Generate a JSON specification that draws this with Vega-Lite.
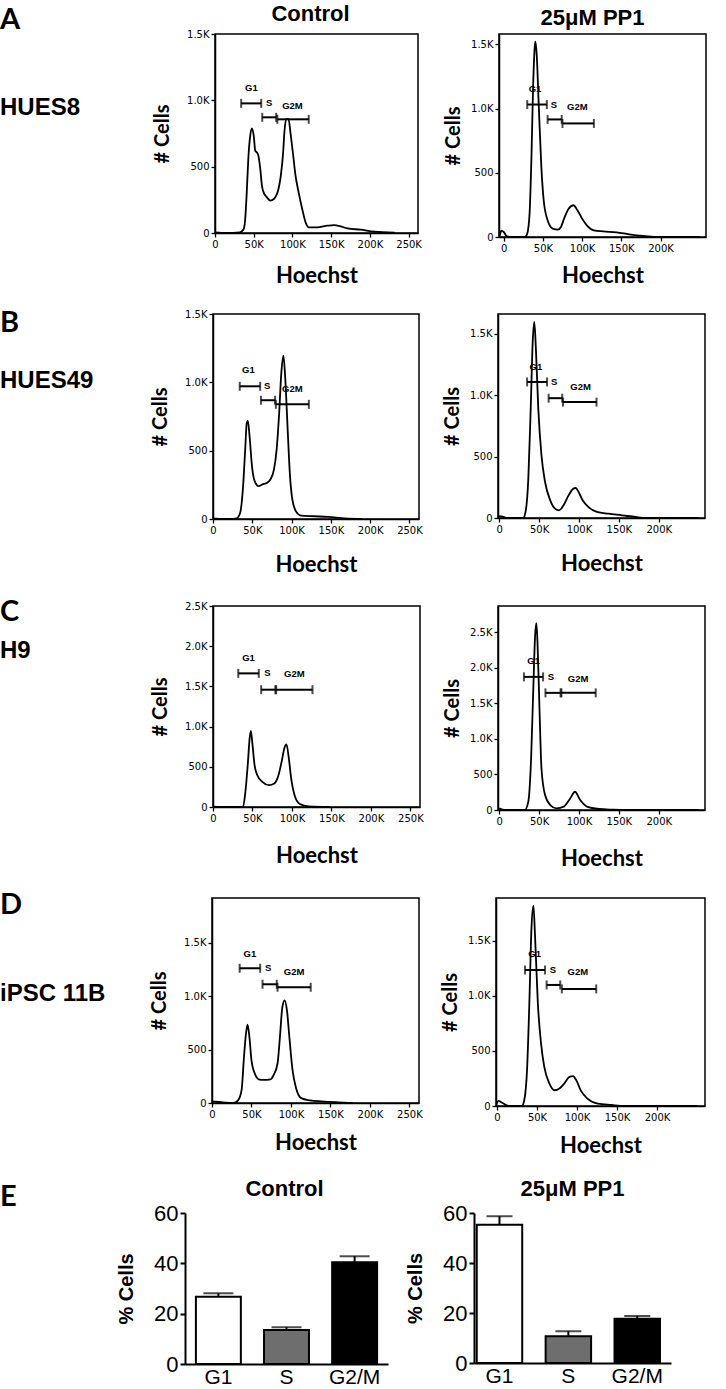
{
  "$schema": "https://vega.github.io/schema/vega-lite/v6.json",
  "padding": {"left": 0, "top": 2, "right": 0, "bottom": 0},
  "autosize": {"type": "pad"},
  "background": "white",
  "datasets": {
    "rows": [
      {"row": "A", "letter": "A", "name": "HUES8"},
      {"row": "B", "letter": "B", "name": "HUES49"},
      {"row": "C", "letter": "C", "name": "H9"},
      {"row": "D", "letter": "D", "name": "iPSC 11B"},
      {"row": "E", "letter": "E", "name": ""}
    ],
    "phases": [
      {"panel": "Control", "phase": "G1", "pct": 26.7, "hi": 28.1},
      {"panel": "Control", "phase": "S", "pct": 13.5, "hi": 14.6},
      {"panel": "Control", "phase": "G2/M", "pct": 40.4, "hi": 42.8},
      {"panel": "PP1", "phase": "G1", "pct": 55.3, "hi": 58.7},
      {"panel": "PP1", "phase": "S", "pct": 10.7, "hi": 12.7},
      {"panel": "PP1", "phase": "G2/M", "pct": 17.7, "hi": 18.8}
    ],
    "gates": [
      {"p": "Actl", "gate": "G1", "x1": 33800, "x2": 59700, "y": 977, "lx": 47000, "ly": 1090},
      {"p": "Actl", "gate": "S", "x1": 61000, "x2": 79000, "y": 872, "lx": 70000, "ly": 977},
      {"p": "Actl", "gate": "G2M", "x1": 80500, "x2": 121000, "y": 857, "lx": 100000, "ly": 955},
      {"p": "Bctl", "gate": "G1", "x1": 34000, "x2": 60000, "y": 971, "lx": 45000, "ly": 1088},
      {"p": "Bctl", "gate": "S", "x1": 61000, "x2": 79000, "y": 869, "lx": 69000, "ly": 971},
      {"p": "Bctl", "gate": "G2M", "x1": 80000, "x2": 122000, "y": 839, "lx": 101000, "ly": 949},
      {"p": "Cctl", "gate": "G1", "x1": 32000, "x2": 58000, "y": 1662, "lx": 45000, "ly": 1853},
      {"p": "Cctl", "gate": "S", "x1": 61000, "x2": 79000, "y": 1459, "lx": 69000, "ly": 1662},
      {"p": "Cctl", "gate": "G2M", "x1": 80000, "x2": 126000, "y": 1459, "lx": 103000, "ly": 1650},
      {"p": "Dctl", "gate": "G1", "x1": 35000, "x2": 61000, "y": 1262, "lx": 48000, "ly": 1400},
      {"p": "Dctl", "gate": "S", "x1": 64000, "x2": 82000, "y": 1112, "lx": 71000, "ly": 1262},
      {"p": "Dctl", "gate": "G2M", "x1": 83000, "x2": 125000, "y": 1084, "lx": 104000, "ly": 1224},
      {"p": "Apps", "gate": "G1", "x1": 30000, "x2": 55000, "y": 1031, "lx": 40000, "ly": 1155},
      {"p": "Apps", "gate": "S", "x1": 56000, "x2": 74000, "y": 915, "lx": 64000, "ly": 1031},
      {"p": "Apps", "gate": "G2M", "x1": 75000, "x2": 115000, "y": 884, "lx": 94000, "ly": 1008},
      {"p": "Bpps", "gate": "G1", "x1": 35000, "x2": 60000, "y": 1107, "lx": 46000, "ly": 1230},
      {"p": "Bpps", "gate": "S", "x1": 62000, "x2": 79000, "y": 975, "lx": 69000, "ly": 1107},
      {"p": "Bpps", "gate": "G2M", "x1": 80000, "x2": 122000, "y": 943, "lx": 102000, "ly": 1066},
      {"p": "Cpps", "gate": "G1", "x1": 31000, "x2": 55000, "y": 1873, "lx": 43000, "ly": 2098},
      {"p": "Cpps", "gate": "S", "x1": 58000, "x2": 77000, "y": 1648, "lx": 65000, "ly": 1873},
      {"p": "Cpps", "gate": "G2M", "x1": 78000, "x2": 121000, "y": 1648, "lx": 99000, "ly": 1845},
      {"p": "Dpps", "gate": "G1", "x1": 35000, "x2": 60000, "y": 1236, "lx": 47000, "ly": 1382},
      {"p": "Dpps", "gate": "S", "x1": 62000, "x2": 79000, "y": 1100, "lx": 70000, "ly": 1236},
      {"p": "Dpps", "gate": "G2M", "x1": 81000, "x2": 124000, "y": 1064, "lx": 101000, "ly": 1218}
    ],
    "curves": [
      {"p":"Actl","x":0,"n":5},{"p":"Actl","x":15000,"n":0},{"p":"Actl","x":32000,"n":5},{"p":"Actl","x":37000,"n":30},{"p":"Actl","x":39000,"n":105},{"p":"Actl","x":41000,"n":306},{"p":"Actl","x":43000,"n":558},{"p":"Actl","x":45500,"n":734},{"p":"Actl","x":47600,"n":789},{"p":"Actl","x":50000,"n":734},{"p":"Actl","x":52000,"n":620},{"p":"Actl","x":54000,"n":608},{"p":"Actl","x":56000,"n":583},{"p":"Actl","x":58500,"n":482},{"p":"Actl","x":60600,"n":357},{"p":"Actl","x":62800,"n":306},{"p":"Actl","x":67000,"n":269},{"p":"Actl","x":71500,"n":244},{"p":"Actl","x":76000,"n":256},{"p":"Actl","x":79000,"n":281},{"p":"Actl","x":82000,"n":332},{"p":"Actl","x":85000,"n":432},{"p":"Actl","x":88000,"n":608},{"p":"Actl","x":89600,"n":759},{"p":"Actl","x":92000,"n":859},{"p":"Actl","x":95000,"n":859},{"p":"Actl","x":97400,"n":759},{"p":"Actl","x":101000,"n":583},{"p":"Actl","x":104000,"n":432},{"p":"Actl","x":108000,"n":306},{"p":"Actl","x":112600,"n":181},{"p":"Actl","x":117000,"n":80},{"p":"Actl","x":121000,"n":43},{"p":"Actl","x":132000,"n":43},{"p":"Actl","x":145000,"n":55},{"p":"Actl","x":154000,"n":60},{"p":"Actl","x":162000,"n":50},{"p":"Actl","x":171000,"n":35},{"p":"Actl","x":188000,"n":25},{"p":"Actl","x":206000,"n":10},{"p":"Actl","x":232000,"n":3},
      {"p":"Apps","x":-5000,"n":10},{"p":"Apps","x":-3000,"n":50},{"p":"Apps","x":0,"n":39},{"p":"Apps","x":4000,"n":5},{"p":"Apps","x":10000,"n":0},{"p":"Apps","x":27000,"n":0},{"p":"Apps","x":30000,"n":26},{"p":"Apps","x":33000,"n":182},{"p":"Apps","x":35500,"n":650},{"p":"Apps","x":37500,"n":1170},{"p":"Apps","x":39600,"n":1482},{"p":"Apps","x":40400,"n":1521},{"p":"Apps","x":42000,"n":1430},{"p":"Apps","x":44600,"n":1040},{"p":"Apps","x":48000,"n":546},{"p":"Apps","x":51000,"n":286},{"p":"Apps","x":56000,"n":130},{"p":"Apps","x":62500,"n":65},{"p":"Apps","x":69000,"n":57},{"p":"Apps","x":73000,"n":78},{"p":"Apps","x":77000,"n":143},{"p":"Apps","x":83000,"n":221},{"p":"Apps","x":89000,"n":247},{"p":"Apps","x":94000,"n":208},{"p":"Apps","x":100000,"n":143},{"p":"Apps","x":106000,"n":91},{"p":"Apps","x":115000,"n":52},{"p":"Apps","x":127000,"n":44},{"p":"Apps","x":144000,"n":36},{"p":"Apps","x":160000,"n":21},{"p":"Apps","x":177000,"n":8},{"p":"Apps","x":194000,"n":0},{"p":"Apps","x":250000,"n":0},
      {"p":"Bctl","x":0,"n":5},{"p":"Bctl","x":13000,"n":0},{"p":"Bctl","x":21500,"n":0},{"p":"Bctl","x":30000,"n":5},{"p":"Bctl","x":34500,"n":44},{"p":"Bctl","x":38000,"n":216},{"p":"Bctl","x":41000,"n":510},{"p":"Bctl","x":43000,"n":706},{"p":"Bctl","x":44400,"n":718},{"p":"Bctl","x":46500,"n":608},{"p":"Bctl","x":49600,"n":387},{"p":"Bctl","x":53000,"n":277},{"p":"Bctl","x":58000,"n":240},{"p":"Bctl","x":62500,"n":252},{"p":"Bctl","x":69000,"n":265},{"p":"Bctl","x":73000,"n":289},{"p":"Bctl","x":77600,"n":363},{"p":"Bctl","x":81000,"n":510},{"p":"Bctl","x":84000,"n":755},{"p":"Bctl","x":87000,"n":1073},{"p":"Bctl","x":89600,"n":1196},{"p":"Bctl","x":92000,"n":1024},{"p":"Bctl","x":95000,"n":657},{"p":"Bctl","x":98000,"n":314},{"p":"Bctl","x":101000,"n":142},{"p":"Bctl","x":105600,"n":56},{"p":"Bctl","x":112000,"n":25},{"p":"Bctl","x":129000,"n":20},{"p":"Bctl","x":146500,"n":15},{"p":"Bctl","x":168000,"n":5},{"p":"Bctl","x":190000,"n":0},
      {"p":"Bpps","x":-1300,"n":16},{"p":"Bpps","x":3000,"n":14},{"p":"Bpps","x":9000,"n":0},{"p":"Bpps","x":30000,"n":0},{"p":"Bpps","x":33000,"n":49},{"p":"Bpps","x":36500,"n":320},{"p":"Bpps","x":39500,"n":890},{"p":"Bpps","x":42000,"n":1432},{"p":"Bpps","x":44000,"n":1595},{"p":"Bpps","x":46000,"n":1378},{"p":"Bpps","x":49000,"n":890},{"p":"Bpps","x":53000,"n":510},{"p":"Bpps","x":57500,"n":293},{"p":"Bpps","x":64000,"n":144},{"p":"Bpps","x":70000,"n":76},{"p":"Bpps","x":75000,"n":62},{"p":"Bpps","x":80600,"n":103},{"p":"Bpps","x":87000,"n":184},{"p":"Bpps","x":93000,"n":239},{"p":"Bpps","x":96000,"n":244},{"p":"Bpps","x":99500,"n":212},{"p":"Bpps","x":104600,"n":144},{"p":"Bpps","x":112000,"n":89},{"p":"Bpps","x":122600,"n":49},{"p":"Bpps","x":137000,"n":35},{"p":"Bpps","x":154000,"n":22},{"p":"Bpps","x":171000,"n":8},{"p":"Bpps","x":183500,"n":0},{"p":"Bpps","x":250000,"n":0},
      {"p":"Cctl","x":0,"n":5},{"p":"Cctl","x":20000,"n":0},{"p":"Cctl","x":38000,"n":0},{"p":"Cctl","x":41000,"n":186},{"p":"Cctl","x":44000,"n":524},{"p":"Cctl","x":46500,"n":863},{"p":"Cctl","x":48000,"n":948},{"p":"Cctl","x":50000,"n":778},{"p":"Cctl","x":52600,"n":524},{"p":"Cctl","x":56000,"n":398},{"p":"Cctl","x":62500,"n":313},{"p":"Cctl","x":71000,"n":271},{"p":"Cctl","x":77600,"n":292},{"p":"Cctl","x":83000,"n":398},{"p":"Cctl","x":87000,"n":567},{"p":"Cctl","x":90500,"n":736},{"p":"Cctl","x":93000,"n":778},{"p":"Cctl","x":96000,"n":609},{"p":"Cctl","x":99000,"n":355},{"p":"Cctl","x":103400,"n":144},{"p":"Cctl","x":110000,"n":38},{"p":"Cctl","x":121000,"n":8},{"p":"Cctl","x":147000,"n":0},
      {"p":"Cpps","x":0,"n":23},{"p":"Cpps","x":7000,"n":0},{"p":"Cpps","x":32000,"n":0},{"p":"Cpps","x":36500,"n":117},{"p":"Cpps","x":40000,"n":724},{"p":"Cpps","x":43000,"n":1798},{"p":"Cpps","x":45000,"n":2452},{"p":"Cpps","x":46600,"n":2630},{"p":"Cpps","x":48000,"n":2360},{"p":"Cpps","x":50500,"n":1425},{"p":"Cpps","x":53000,"n":584},{"p":"Cpps","x":57500,"n":210},{"p":"Cpps","x":64000,"n":70},{"p":"Cpps","x":72000,"n":23},{"p":"Cpps","x":81000,"n":47},{"p":"Cpps","x":89000,"n":163},{"p":"Cpps","x":95000,"n":257},{"p":"Cpps","x":101600,"n":140},{"p":"Cpps","x":110000,"n":47},{"p":"Cpps","x":125000,"n":14},{"p":"Cpps","x":142000,"n":5},{"p":"Cpps","x":163000,"n":0},{"p":"Cpps","x":250000,"n":0},
      {"p":"Dctl","x":0,"n":15},{"p":"Dctl","x":14000,"n":6},{"p":"Dctl","x":27000,"n":0},{"p":"Dctl","x":33000,"n":25},{"p":"Dctl","x":37500,"n":123},{"p":"Dctl","x":40500,"n":431},{"p":"Dctl","x":43000,"n":647},{"p":"Dctl","x":45000,"n":733},{"p":"Dctl","x":47400,"n":616},{"p":"Dctl","x":50000,"n":400},{"p":"Dctl","x":55000,"n":262},{"p":"Dctl","x":59000,"n":222},{"p":"Dctl","x":65500,"n":216},{"p":"Dctl","x":74000,"n":222},{"p":"Dctl","x":78000,"n":262},{"p":"Dctl","x":83000,"n":370},{"p":"Dctl","x":86000,"n":616},{"p":"Dctl","x":89000,"n":893},{"p":"Dctl","x":92000,"n":961},{"p":"Dctl","x":95000,"n":862},{"p":"Dctl","x":98000,"n":616},{"p":"Dctl","x":102000,"n":308},{"p":"Dctl","x":106500,"n":139},{"p":"Dctl","x":113000,"n":46},{"p":"Dctl","x":124000,"n":25},{"p":"Dctl","x":139000,"n":15},{"p":"Dctl","x":160000,"n":6},{"p":"Dctl","x":178000,"n":0},
      {"p":"Dpps","x":-1000,"n":6},{"p":"Dpps","x":1700,"n":46},{"p":"Dpps","x":7000,"n":27},{"p":"Dpps","x":15000,"n":0},{"p":"Dpps","x":31000,"n":0},{"p":"Dpps","x":34000,"n":52},{"p":"Dpps","x":37500,"n":326},{"p":"Dpps","x":40400,"n":936},{"p":"Dpps","x":43000,"n":1607},{"p":"Dpps","x":45500,"n":1821},{"p":"Dpps","x":47500,"n":1546},{"p":"Dpps","x":51000,"n":936},{"p":"Dpps","x":55000,"n":570},{"p":"Dpps","x":59000,"n":357},{"p":"Dpps","x":65500,"n":204},{"p":"Dpps","x":72000,"n":143},{"p":"Dpps","x":78000,"n":159},{"p":"Dpps","x":84000,"n":204},{"p":"Dpps","x":90500,"n":265},{"p":"Dpps","x":95000,"n":271},{"p":"Dpps","x":99000,"n":235},{"p":"Dpps","x":105000,"n":137},{"p":"Dpps","x":113000,"n":67},{"p":"Dpps","x":126000,"n":21},{"p":"Dpps","x":143000,"n":9},{"p":"Dpps","x":159000,"n":0},{"p":"Dpps","x":250000,"n":0}
    ]
  },
  "spacing": 21,
  "vconcat": [
    {
      "spacing": 19,
      "hconcat": [
        {
          "width": 132, "height": 199, "view": {"stroke": null},
          "data": {"name": "rows"}, "transform": [{"filter": "datum.row === 'A'"}],
          "layer": [
            {"mark": {"type": "text", "font": "Lato", "fontWeight": "bold", "fontSize": 29, "align": "left", "baseline": "top"},
             "encoding": {"x": {"datum": 0, "type": "quantitative", "scale": {"domain": [0, 1]}, "axis": null}, "y": {"datum": 1.14, "type": "quantitative", "scale": {"domain": [0, 1]}, "axis": null}, "text": {"field": "letter"}}},
            {"mark": {"type": "text", "font": "Liberation Sans", "fontWeight": "bold", "fontSize": 24, "align": "left", "baseline": "middle"},
             "encoding": {"x": {"datum": 0, "type": "quantitative", "scale": {"domain": [0, 1]}, "axis": null}, "y": {"datum": 0.628, "type": "quantitative", "scale": {"domain": [0, 1]}, "axis": null}, "text": {"field": "name"}}}
          ]
        },
        {
          "width": 203, "height": 199,
          "title": {"text": "Control", "offset": 3, "frame": "group", "dx": -6},
          "layer": [
            {"data": {"name": "curves"}, "transform": [{"filter": "datum.p === 'Actl'"}],
             "mark": {"type": "line", "color": "black", "strokeWidth": 1.8, "interpolate": "monotone", "clip": true},
             "encoding": {
               "x": {"field": "x", "type": "quantitative", "scale": {"domain": [0, 262144], "nice": false, "zero": false},
                     "axis": {"title": "Hoechst", "titlePadding": 16, "labelOverlap": false, "values": [0, 50000, 100000, 150000, 200000, 250000],
                              "labelExpr": "datum.value === 0 ? '0' : (datum.value / 1000) + 'K'"}},
               "y": {"field": "n", "type": "quantitative", "scale": {"domain": [0, 1500], "nice": false},
                     "axis": {"title": "# Cells", "titlePadding": 14, "labelOverlap": false, "values": [0, 500, 1000, 1500],
                              "labelExpr": "datum.value === 0 ? '0' : datum.value < 1000 ? '' + datum.value : format(datum.value / 1000, '.1f') + 'K'"}}
             }},
            {"data": {"name": "gates"}, "transform": [{"filter": "datum.p === 'Actl'"}],
             "mark": {"type": "rule", "color": "black", "strokeWidth": 2},
             "encoding": {"x": {"field": "x1", "type": "quantitative", "scale": {"domain": [0, 262144], "nice": false, "zero": false}}, "x2": {"field": "x2"}, "y": {"field": "y", "type": "quantitative", "scale": {"domain": [0, 1500], "nice": false}}}},
            {"data": {"name": "gates"}, "transform": [{"filter": "datum.p === 'Actl'"}, {"fold": ["x1", "x2"], "as": ["end", "xe"]}],
             "mark": {"type": "tick", "orient": "vertical", "color": "black", "size": 9, "thickness": 2},
             "encoding": {"x": {"field": "xe", "type": "quantitative", "scale": {"domain": [0, 262144], "nice": false, "zero": false}}, "y": {"field": "y", "type": "quantitative", "scale": {"domain": [0, 1500], "nice": false}}}},
            {"data": {"name": "gates"}, "transform": [{"filter": "datum.p === 'Actl'"}],
             "mark": {"type": "text", "font": "Liberation Sans", "fontWeight": "bold", "fontSize": 9.5},
             "encoding": {"x": {"field": "lx", "type": "quantitative", "scale": {"domain": [0, 262144], "nice": false, "zero": false}}, "y": {"field": "ly", "type": "quantitative", "scale": {"domain": [0, 1500], "nice": false}}, "text": {"field": "gate"}}}
          ]
        },
        {
          "width": 207, "height": 203,
          "title": {"text": "25μM PP1", "offset": 4, "frame": "group", "dx": -10},
          "layer": [
            {"data": {"name": "curves"}, "transform": [{"filter": "datum.p === 'Apps'"}],
             "mark": {"type": "line", "color": "black", "strokeWidth": 1.8, "interpolate": "monotone", "clip": true},
             "encoding": {
               "x": {"field": "x", "type": "quantitative", "scale": {"domain": [-6000, 258000], "nice": false, "zero": false},
                     "axis": {"title": "Hoechst", "titlePadding": 12, "labelOverlap": false, "values": [0, 50000, 100000, 150000, 200000],
                              "labelExpr": "datum.value === 0 ? '0' : (datum.value / 1000) + 'K'"}},
               "y": {"field": "n", "type": "quantitative", "scale": {"domain": [0, 1580], "nice": false},
                     "axis": {"title": "# Cells", "titlePadding": 7, "labelOverlap": false, "values": [0, 500, 1000, 1500],
                              "labelExpr": "datum.value === 0 ? '0' : datum.value < 1000 ? '' + datum.value : format(datum.value / 1000, '.1f') + 'K'"}}
             }},
            {"data": {"name": "gates"}, "transform": [{"filter": "datum.p === 'Apps'"}],
             "mark": {"type": "rule", "color": "black", "strokeWidth": 2},
             "encoding": {"x": {"field": "x1", "type": "quantitative", "scale": {"domain": [-6000, 258000], "nice": false, "zero": false}}, "x2": {"field": "x2"}, "y": {"field": "y", "type": "quantitative", "scale": {"domain": [0, 1580], "nice": false}}}},
            {"data": {"name": "gates"}, "transform": [{"filter": "datum.p === 'Apps'"}, {"fold": ["x1", "x2"], "as": ["end", "xe"]}],
             "mark": {"type": "tick", "orient": "vertical", "color": "black", "size": 9, "thickness": 2},
             "encoding": {"x": {"field": "xe", "type": "quantitative", "scale": {"domain": [-6000, 258000], "nice": false, "zero": false}}, "y": {"field": "y", "type": "quantitative", "scale": {"domain": [0, 1580], "nice": false}}}},
            {"data": {"name": "gates"}, "transform": [{"filter": "datum.p === 'Apps'"}],
             "mark": {"type": "text", "font": "Liberation Sans", "fontWeight": "bold", "fontSize": 9.5},
             "encoding": {"x": {"field": "lx", "type": "quantitative", "scale": {"domain": [-6000, 258000], "nice": false, "zero": false}}, "y": {"field": "ly", "type": "quantitative", "scale": {"domain": [0, 1580], "nice": false}}, "text": {"field": "gate"}}}
          ]
        }
      ]
    },
    {
      "spacing": 17,
      "hconcat": [
        {
          "width": 132, "height": 205, "view": {"stroke": null},
          "data": {"name": "rows"}, "transform": [{"filter": "datum.row === 'B'"}],
          "layer": [
            {"mark": {"type": "text", "font": "Lato", "fontWeight": "bold", "fontSize": 29, "align": "left", "baseline": "top"},
             "encoding": {"x": {"datum": 0, "type": "quantitative", "scale": {"domain": [0, 1]}, "axis": null}, "y": {"datum": 1.024, "type": "quantitative", "scale": {"domain": [0, 1]}, "axis": null}, "text": {"field": "letter"}}},
            {"mark": {"type": "text", "font": "Liberation Sans", "fontWeight": "bold", "fontSize": 24, "align": "left", "baseline": "middle"},
             "encoding": {"x": {"datum": 0, "type": "quantitative", "scale": {"domain": [0, 1]}, "axis": null}, "y": {"datum": 0.673, "type": "quantitative", "scale": {"domain": [0, 1]}, "axis": null}, "text": {"field": "name"}}}
          ]
        },
        {
          "width": 206, "height": 205,
          "layer": [
            {"data": {"name": "curves"}, "transform": [{"filter": "datum.p === 'Bctl'"}],
             "mark": {"type": "line", "color": "black", "strokeWidth": 1.8, "interpolate": "monotone", "clip": true},
             "encoding": {
               "x": {"field": "x", "type": "quantitative", "scale": {"domain": [0, 262144], "nice": false, "zero": false},
                     "axis": {"title": "Hoechst", "titlePadding": 19, "labelOverlap": false, "values": [0, 50000, 100000, 150000, 200000, 250000],
                              "labelExpr": "datum.value === 0 ? '0' : (datum.value / 1000) + 'K'"}},
               "y": {"field": "n", "type": "quantitative", "scale": {"domain": [0, 1500], "nice": false},
                     "axis": {"title": "# Cells", "titlePadding": 14, "labelOverlap": false, "values": [0, 500, 1000, 1500],
                              "labelExpr": "datum.value === 0 ? '0' : datum.value < 1000 ? '' + datum.value : format(datum.value / 1000, '.1f') + 'K'"}}
             }},
            {"data": {"name": "gates"}, "transform": [{"filter": "datum.p === 'Bctl'"}],
             "mark": {"type": "rule", "color": "black", "strokeWidth": 2},
             "encoding": {"x": {"field": "x1", "type": "quantitative", "scale": {"domain": [0, 262144], "nice": false, "zero": false}}, "x2": {"field": "x2"}, "y": {"field": "y", "type": "quantitative", "scale": {"domain": [0, 1500], "nice": false}}}},
            {"data": {"name": "gates"}, "transform": [{"filter": "datum.p === 'Bctl'"}, {"fold": ["x1", "x2"], "as": ["end", "xe"]}],
             "mark": {"type": "tick", "orient": "vertical", "color": "black", "size": 9, "thickness": 2},
             "encoding": {"x": {"field": "xe", "type": "quantitative", "scale": {"domain": [0, 262144], "nice": false, "zero": false}}, "y": {"field": "y", "type": "quantitative", "scale": {"domain": [0, 1500], "nice": false}}}},
            {"data": {"name": "gates"}, "transform": [{"filter": "datum.p === 'Bctl'"}],
             "mark": {"type": "text", "font": "Liberation Sans", "fontWeight": "bold", "fontSize": 9.5},
             "encoding": {"x": {"field": "lx", "type": "quantitative", "scale": {"domain": [0, 262144], "nice": false, "zero": false}}, "y": {"field": "ly", "type": "quantitative", "scale": {"domain": [0, 1500], "nice": false}}, "text": {"field": "gate"}}}
          ]
        },
        {
          "width": 207, "height": 204,
          "layer": [
            {"data": {"name": "curves"}, "transform": [{"filter": "datum.p === 'Bpps'"}],
             "mark": {"type": "line", "color": "black", "strokeWidth": 1.8, "interpolate": "monotone", "clip": true},
             "encoding": {
               "x": {"field": "x", "type": "quantitative", "scale": {"domain": [-1500, 258000], "nice": false, "zero": false},
                     "axis": {"title": "Hoechst", "titlePadding": 19, "labelOverlap": false, "values": [0, 50000, 100000, 150000, 200000],
                              "labelExpr": "datum.value === 0 ? '0' : (datum.value / 1000) + 'K'"}},
               "y": {"field": "n", "type": "quantitative", "scale": {"domain": [0, 1660], "nice": false},
                     "axis": {"title": "# Cells", "titlePadding": 7, "labelOverlap": false, "values": [0, 500, 1000, 1500],
                              "labelExpr": "datum.value === 0 ? '0' : datum.value < 1000 ? '' + datum.value : format(datum.value / 1000, '.1f') + 'K'"}}
             }},
            {"data": {"name": "gates"}, "transform": [{"filter": "datum.p === 'Bpps'"}],
             "mark": {"type": "rule", "color": "black", "strokeWidth": 2},
             "encoding": {"x": {"field": "x1", "type": "quantitative", "scale": {"domain": [-1500, 258000], "nice": false, "zero": false}}, "x2": {"field": "x2"}, "y": {"field": "y", "type": "quantitative", "scale": {"domain": [0, 1660], "nice": false}}}},
            {"data": {"name": "gates"}, "transform": [{"filter": "datum.p === 'Bpps'"}, {"fold": ["x1", "x2"], "as": ["end", "xe"]}],
             "mark": {"type": "tick", "orient": "vertical", "color": "black", "size": 9, "thickness": 2},
             "encoding": {"x": {"field": "xe", "type": "quantitative", "scale": {"domain": [-1500, 258000], "nice": false, "zero": false}}, "y": {"field": "y", "type": "quantitative", "scale": {"domain": [0, 1660], "nice": false}}}},
            {"data": {"name": "gates"}, "transform": [{"filter": "datum.p === 'Bpps'"}],
             "mark": {"type": "text", "font": "Liberation Sans", "fontWeight": "bold", "fontSize": 9.5},
             "encoding": {"x": {"field": "lx", "type": "quantitative", "scale": {"domain": [-1500, 258000], "nice": false, "zero": false}}, "y": {"field": "ly", "type": "quantitative", "scale": {"domain": [0, 1660], "nice": false}}, "text": {"field": "gate"}}}
          ]
        }
      ]
    },
    {
      "spacing": 17,
      "hconcat": [
        {
          "width": 132, "height": 201, "view": {"stroke": null},
          "data": {"name": "rows"}, "transform": [{"filter": "datum.row === 'C'"}],
          "layer": [
            {"mark": {"type": "text", "font": "Lato", "fontWeight": "bold", "fontSize": 29, "align": "left", "baseline": "top"},
             "encoding": {"x": {"datum": 0, "type": "quantitative", "scale": {"domain": [0, 1]}, "axis": null}, "y": {"datum": 1.04, "type": "quantitative", "scale": {"domain": [0, 1]}, "axis": null}, "text": {"field": "letter"}}},
            {"mark": {"type": "text", "font": "Liberation Sans", "fontWeight": "bold", "fontSize": 24, "align": "left", "baseline": "middle"},
             "encoding": {"x": {"datum": 0, "type": "quantitative", "scale": {"domain": [0, 1]}, "axis": null}, "y": {"datum": 0.776, "type": "quantitative", "scale": {"domain": [0, 1]}, "axis": null}, "text": {"field": "name"}}}
          ]
        },
        {
          "width": 207, "height": 201,
          "layer": [
            {"data": {"name": "curves"}, "transform": [{"filter": "datum.p === 'Cctl'"}],
             "mark": {"type": "line", "color": "black", "strokeWidth": 1.8, "interpolate": "monotone", "clip": true},
             "encoding": {
               "x": {"field": "x", "type": "quantitative", "scale": {"domain": [0, 262144], "nice": false, "zero": false},
                     "axis": {"title": "Hoechst", "titlePadding": 22, "labelOverlap": false, "values": [0, 50000, 100000, 150000, 200000, 250000],
                              "labelExpr": "datum.value === 0 ? '0' : (datum.value / 1000) + 'K'"}},
               "y": {"field": "n", "type": "quantitative", "scale": {"domain": [0, 2500], "nice": false},
                     "axis": {"title": "# Cells", "titlePadding": 14, "labelOverlap": false, "values": [0, 500, 1000, 1500, 2000, 2500],
                              "labelExpr": "datum.value === 0 ? '0' : datum.value < 1000 ? '' + datum.value : format(datum.value / 1000, '.1f') + 'K'"}}
             }},
            {"data": {"name": "gates"}, "transform": [{"filter": "datum.p === 'Cctl'"}],
             "mark": {"type": "rule", "color": "black", "strokeWidth": 2},
             "encoding": {"x": {"field": "x1", "type": "quantitative", "scale": {"domain": [0, 262144], "nice": false, "zero": false}}, "x2": {"field": "x2"}, "y": {"field": "y", "type": "quantitative", "scale": {"domain": [0, 2500], "nice": false}}}},
            {"data": {"name": "gates"}, "transform": [{"filter": "datum.p === 'Cctl'"}, {"fold": ["x1", "x2"], "as": ["end", "xe"]}],
             "mark": {"type": "tick", "orient": "vertical", "color": "black", "size": 9, "thickness": 2},
             "encoding": {"x": {"field": "xe", "type": "quantitative", "scale": {"domain": [0, 262144], "nice": false, "zero": false}}, "y": {"field": "y", "type": "quantitative", "scale": {"domain": [0, 2500], "nice": false}}}},
            {"data": {"name": "gates"}, "transform": [{"filter": "datum.p === 'Cctl'"}],
             "mark": {"type": "text", "font": "Liberation Sans", "fontWeight": "bold", "fontSize": 9.5},
             "encoding": {"x": {"field": "lx", "type": "quantitative", "scale": {"domain": [0, 262144], "nice": false, "zero": false}}, "y": {"field": "ly", "type": "quantitative", "scale": {"domain": [0, 2500], "nice": false}}, "text": {"field": "gate"}}}
          ]
        },
        {
          "width": 207, "height": 204,
          "layer": [
            {"data": {"name": "curves"}, "transform": [{"filter": "datum.p === 'Cpps'"}],
             "mark": {"type": "line", "color": "black", "strokeWidth": 1.8, "interpolate": "monotone", "clip": true},
             "encoding": {
               "x": {"field": "x", "type": "quantitative", "scale": {"domain": [-1500, 258000], "nice": false, "zero": false},
                     "axis": {"title": "Hoechst", "titlePadding": 22, "labelOverlap": false, "values": [0, 50000, 100000, 150000, 200000],
                              "labelExpr": "datum.value === 0 ? '0' : (datum.value / 1000) + 'K'"}},
               "y": {"field": "n", "type": "quantitative", "scale": {"domain": [0, 2870], "nice": false},
                     "axis": {"title": "# Cells", "titlePadding": 7, "labelOverlap": false, "values": [0, 500, 1000, 1500, 2000, 2500],
                              "labelExpr": "datum.value === 0 ? '0' : datum.value < 1000 ? '' + datum.value : format(datum.value / 1000, '.1f') + 'K'"}}
             }},
            {"data": {"name": "gates"}, "transform": [{"filter": "datum.p === 'Cpps'"}],
             "mark": {"type": "rule", "color": "black", "strokeWidth": 2},
             "encoding": {"x": {"field": "x1", "type": "quantitative", "scale": {"domain": [-1500, 258000], "nice": false, "zero": false}}, "x2": {"field": "x2"}, "y": {"field": "y", "type": "quantitative", "scale": {"domain": [0, 2870], "nice": false}}}},
            {"data": {"name": "gates"}, "transform": [{"filter": "datum.p === 'Cpps'"}, {"fold": ["x1", "x2"], "as": ["end", "xe"]}],
             "mark": {"type": "tick", "orient": "vertical", "color": "black", "size": 9, "thickness": 2},
             "encoding": {"x": {"field": "xe", "type": "quantitative", "scale": {"domain": [-1500, 258000], "nice": false, "zero": false}}, "y": {"field": "y", "type": "quantitative", "scale": {"domain": [0, 2870], "nice": false}}}},
            {"data": {"name": "gates"}, "transform": [{"filter": "datum.p === 'Cpps'"}],
             "mark": {"type": "text", "font": "Liberation Sans", "fontWeight": "bold", "fontSize": 9.5},
             "encoding": {"x": {"field": "lx", "type": "quantitative", "scale": {"domain": [-1500, 258000], "nice": false, "zero": false}}, "y": {"field": "ly", "type": "quantitative", "scale": {"domain": [0, 2870], "nice": false}}, "text": {"field": "gate"}}}
          ]
        }
      ]
    },
    {
      "spacing": 16,
      "hconcat": [
        {
          "width": 132, "height": 205, "view": {"stroke": null},
          "data": {"name": "rows"}, "transform": [{"filter": "datum.row === 'D'"}],
          "layer": [
            {"mark": {"type": "text", "font": "Lato", "fontWeight": "bold", "fontSize": 29, "align": "left", "baseline": "top"},
             "encoding": {"x": {"datum": 0, "type": "quantitative", "scale": {"domain": [0, 1]}, "axis": null}, "y": {"datum": 1.034, "type": "quantitative", "scale": {"domain": [0, 1]}, "axis": null}, "text": {"field": "letter"}}},
            {"mark": {"type": "text", "font": "Liberation Sans", "fontWeight": "bold", "fontSize": 24, "align": "left", "baseline": "middle"},
             "encoding": {"x": {"datum": 0, "type": "quantitative", "scale": {"domain": [0, 1]}, "axis": null}, "y": {"datum": 0.532, "type": "quantitative", "scale": {"domain": [0, 1]}, "axis": null}, "text": {"field": "name"}}}
          ]
        },
        {
          "width": 207, "height": 205,
          "layer": [
            {"data": {"name": "curves"}, "transform": [{"filter": "datum.p === 'Dctl'"}],
             "mark": {"type": "line", "color": "black", "strokeWidth": 1.8, "interpolate": "monotone", "clip": true},
             "encoding": {
               "x": {"field": "x", "type": "quantitative", "scale": {"domain": [0, 262144], "nice": false, "zero": false},
                     "axis": {"title": "Hoechst", "titlePadding": 13, "labelOverlap": false, "values": [0, 50000, 100000, 150000, 200000, 250000],
                              "labelExpr": "datum.value === 0 ? '0' : (datum.value / 1000) + 'K'"}},
               "y": {"field": "n", "type": "quantitative", "scale": {"domain": [0, 1920], "nice": false},
                     "axis": {"title": "# Cells", "titlePadding": 14, "labelOverlap": false, "values": [0, 500, 1000, 1500],
                              "labelExpr": "datum.value === 0 ? '0' : datum.value < 1000 ? '' + datum.value : format(datum.value / 1000, '.1f') + 'K'"}}
             }},
            {"data": {"name": "gates"}, "transform": [{"filter": "datum.p === 'Dctl'"}],
             "mark": {"type": "rule", "color": "black", "strokeWidth": 2},
             "encoding": {"x": {"field": "x1", "type": "quantitative", "scale": {"domain": [0, 262144], "nice": false, "zero": false}}, "x2": {"field": "x2"}, "y": {"field": "y", "type": "quantitative", "scale": {"domain": [0, 1920], "nice": false}}}},
            {"data": {"name": "gates"}, "transform": [{"filter": "datum.p === 'Dctl'"}, {"fold": ["x1", "x2"], "as": ["end", "xe"]}],
             "mark": {"type": "tick", "orient": "vertical", "color": "black", "size": 9, "thickness": 2},
             "encoding": {"x": {"field": "xe", "type": "quantitative", "scale": {"domain": [0, 262144], "nice": false, "zero": false}}, "y": {"field": "y", "type": "quantitative", "scale": {"domain": [0, 1920], "nice": false}}}},
            {"data": {"name": "gates"}, "transform": [{"filter": "datum.p === 'Dctl'"}],
             "mark": {"type": "text", "font": "Liberation Sans", "fontWeight": "bold", "fontSize": 9.5},
             "encoding": {"x": {"field": "lx", "type": "quantitative", "scale": {"domain": [0, 262144], "nice": false, "zero": false}}, "y": {"field": "ly", "type": "quantitative", "scale": {"domain": [0, 1920], "nice": false}}, "text": {"field": "gate"}}}
          ]
        },
        {
          "width": 209, "height": 208,
          "layer": [
            {"data": {"name": "curves"}, "transform": [{"filter": "datum.p === 'Dpps'"}],
             "mark": {"type": "line", "color": "black", "strokeWidth": 1.8, "interpolate": "monotone", "clip": true},
             "encoding": {
               "x": {"field": "x", "type": "quantitative", "scale": {"domain": [-1300, 260000], "nice": false, "zero": false},
                     "axis": {"title": "Hoechst", "titlePadding": 13, "labelOverlap": false, "values": [0, 50000, 100000, 150000, 200000],
                              "labelExpr": "datum.value === 0 ? '0' : (datum.value / 1000) + 'K'"}},
               "y": {"field": "n", "type": "quantitative", "scale": {"domain": [0, 1890], "nice": false},
                     "axis": {"title": "# Cells", "titlePadding": 7, "labelOverlap": false, "values": [0, 500, 1000, 1500],
                              "labelExpr": "datum.value === 0 ? '0' : datum.value < 1000 ? '' + datum.value : format(datum.value / 1000, '.1f') + 'K'"}}
             }},
            {"data": {"name": "gates"}, "transform": [{"filter": "datum.p === 'Dpps'"}],
             "mark": {"type": "rule", "color": "black", "strokeWidth": 2},
             "encoding": {"x": {"field": "x1", "type": "quantitative", "scale": {"domain": [-1300, 260000], "nice": false, "zero": false}}, "x2": {"field": "x2"}, "y": {"field": "y", "type": "quantitative", "scale": {"domain": [0, 1890], "nice": false}}}},
            {"data": {"name": "gates"}, "transform": [{"filter": "datum.p === 'Dpps'"}, {"fold": ["x1", "x2"], "as": ["end", "xe"]}],
             "mark": {"type": "tick", "orient": "vertical", "color": "black", "size": 9, "thickness": 2},
             "encoding": {"x": {"field": "xe", "type": "quantitative", "scale": {"domain": [-1300, 260000], "nice": false, "zero": false}}, "y": {"field": "y", "type": "quantitative", "scale": {"domain": [0, 1890], "nice": false}}}},
            {"data": {"name": "gates"}, "transform": [{"filter": "datum.p === 'Dpps'"}],
             "mark": {"type": "text", "font": "Liberation Sans", "fontWeight": "bold", "fontSize": 9.5},
             "encoding": {"x": {"field": "lx", "type": "quantitative", "scale": {"domain": [-1300, 260000], "nice": false, "zero": false}}, "y": {"field": "ly", "type": "quantitative", "scale": {"domain": [0, 1890], "nice": false}}, "text": {"field": "gate"}}}
          ]
        }
      ]
    },
    {
      "spacing": 17,
      "hconcat": [
        {
          "width": 99, "height": 151, "view": {"stroke": null},
          "data": {"name": "rows"}, "transform": [{"filter": "datum.row === 'E'"}],
          "mark": {"type": "text", "font": "Lato", "fontWeight": "bold", "fontSize": 29, "align": "left", "baseline": "top"},
          "encoding": {"x": {"datum": 0, "type": "quantitative", "scale": {"domain": [0, 1]}, "axis": null}, "y": {"datum": 1.2, "type": "quantitative", "scale": {"domain": [0, 1]}, "axis": null}, "text": {"field": "letter"}}
        },
        {
          "width": 203, "height": 151, "view": {"stroke": null},
          "title": {"text": "Control", "offset": 1, "frame": "group", "dx": -2},
          "data": {"name": "phases"}, "transform": [{"filter": "datum.panel === 'Control'"}],
          "layer": [
            {"mark": {"type": "bar", "stroke": "black", "strokeWidth": 2},
             "encoding": {
               "x": {"field": "phase", "type": "nominal", "sort": ["G1", "S", "G2/M"], "scale": {"paddingInner": 0.34, "paddingOuter": 0.16},
                     "axis": {"title": null, "ticks": false, "domainWidth": 2, "labelFont": "Liberation Sans", "labelFontSize": 21, "labelPadding": 2, "labelAngle": 0}},
               "y": {"field": "pct", "type": "quantitative", "scale": {"domain": [0, 60], "nice": false},
                     "axis": {"title": "% Cells", "titleFont": "Liberation Sans", "titleFontSize": 20, "titlePadding": 17, "values": [0, 20, 40, 60], "domainWidth": 2, "tickWidth": 2, "tickSize": 5, "labelPadding": 2, "labelFont": "Liberation Sans", "labelFontSize": 22}},
               "fill": {"field": "phase", "type": "nominal", "scale": {"domain": ["G1", "S", "G2/M"], "range": ["white", "#6e6e6e", "black"]}, "legend": null}
             }},
            {"mark": {"type": "rule", "color": "black", "strokeWidth": 2},
             "encoding": {"x": {"field": "phase", "type": "nominal", "sort": ["G1", "S", "G2/M"]}, "y": {"field": "pct", "type": "quantitative", "scale": {"domain": [0, 60], "nice": false}}, "y2": {"field": "hi"}}},
            {"mark": {"type": "tick", "orient": "horizontal", "color": "black", "size": 30, "thickness": 2},
             "encoding": {"x": {"field": "phase", "type": "nominal", "sort": ["G1", "S", "G2/M"]}, "y": {"field": "hi", "type": "quantitative", "scale": {"domain": [0, 60], "nice": false}}}}
          ]
        },
        {
          "width": 197, "height": 150, "view": {"stroke": null},
          "title": {"text": "25μM PP1", "offset": 1, "frame": "group"},
          "data": {"name": "phases"}, "transform": [{"filter": "datum.panel === 'PP1'"}],
          "layer": [
            {"mark": {"type": "bar", "stroke": "black", "strokeWidth": 2},
             "encoding": {
               "x": {"field": "phase", "type": "nominal", "sort": ["G1", "S", "G2/M"], "scale": {"paddingInner": 0.34, "paddingOuter": 0.1, "align": 0.2},
                     "axis": {"title": null, "ticks": false, "domainWidth": 2, "labelFont": "Liberation Sans", "labelFontSize": 21, "labelPadding": 2, "labelAngle": 0}},
               "y": {"field": "pct", "type": "quantitative", "scale": {"domain": [0, 60], "nice": false},
                     "axis": {"title": "% Cells", "titleFont": "Liberation Sans", "titleFontSize": 20, "titlePadding": 17, "values": [0, 20, 40, 60], "domainWidth": 2, "tickWidth": 2, "tickSize": 5, "labelPadding": 2, "labelFont": "Liberation Sans", "labelFontSize": 22}},
               "fill": {"field": "phase", "type": "nominal", "scale": {"domain": ["G1", "S", "G2/M"], "range": ["white", "#6e6e6e", "black"]}, "legend": null}
             }},
            {"mark": {"type": "rule", "color": "black", "strokeWidth": 2},
             "encoding": {"x": {"field": "phase", "type": "nominal", "sort": ["G1", "S", "G2/M"]}, "y": {"field": "pct", "type": "quantitative", "scale": {"domain": [0, 60], "nice": false}}, "y2": {"field": "hi"}}},
            {"mark": {"type": "tick", "orient": "horizontal", "color": "black", "size": 26, "thickness": 2},
             "encoding": {"x": {"field": "phase", "type": "nominal", "sort": ["G1", "S", "G2/M"]}, "y": {"field": "hi", "type": "quantitative", "scale": {"domain": [0, 60], "nice": false}}}}
          ]
        }
      ]
    }
  ],
  "config": {
    "view": {"stroke": "black", "strokeWidth": 1.5},
    "axis": {"grid": false, "domainColor": "black", "domainWidth": 1.5, "tickColor": "black", "tickWidth": 1.3, "tickSize": 4, "labelPadding": 2, "labelColor": "black", "labelFont": "DejaVu Sans", "labelFontSize": 10, "labelFlush": false, "labelOverlap": false, "titleColor": "black", "titleFont": "Lato", "titleFontWeight": "bold", "titleFontSize": 22},
    "axisY": {"titleFontSize": 20},
    "title": {"font": "Liberation Sans", "fontSize": 22, "fontWeight": "bold", "color": "black"}
  }
}
